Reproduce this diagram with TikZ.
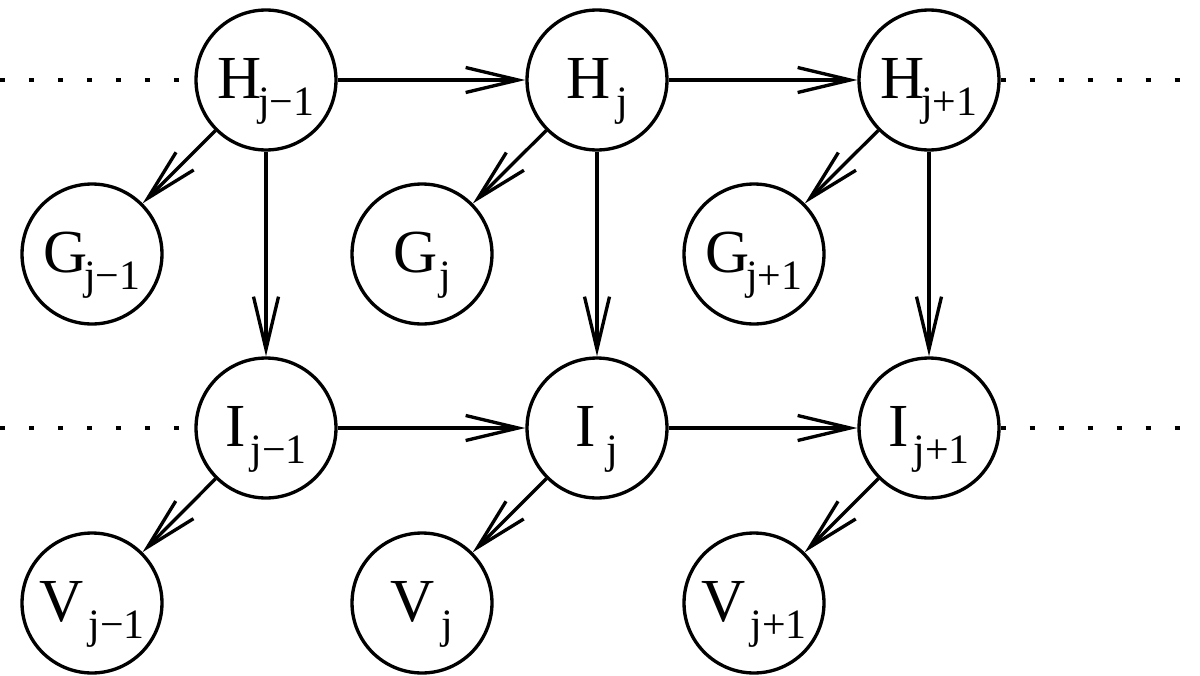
\documentclass[tikz,border=0pt]{standalone}
\usepackage{fontspec}
\usepackage{graphicx}
\setmainfont{Liberation Serif}
\usetikzlibrary{arrows.meta}
\newcommand{\nlab}[3][-0.06em]{\scalebox{1.16}{\fontsize{30}{34}\selectfont #2\kern#1\raisebox{-0.3cm}{\scalebox{1.08}{\fontsize{19}{21}\selectfont #3}}}}

\begin{document}
\begin{tikzpicture}[x=0.02cm, y=-0.02cm, line width=1.9pt,
		state/.style={draw, circle, minimum size=2.8cm, inner sep=0pt,
			text height=0.74cm, text depth=0pt},
		flow/.style={-{Straight Barb[length=1.05cm, width=0.5cm]}},
		dots/.style={dash pattern=on 0.1cm off 0.48cm}]
			\useasboundingbox (0,0) rectangle (1200,676);
			% top row
			\node[state] (h1) at (266,80) {\nlab{H}{j−1}};
			\node[state] (h2) at (597,80) {\nlab[0.1em]{H}{j}};
			\node[state] (h3) at (929,80) {\nlab{H}{j+1}};
			\node[state] (g1) at (92,254) {\nlab{G}{j−1}};
			\node[state] (g2) at (422,254) {\nlab[0.03em]{G}{j}};
			\node[state] (g3) at (754,254) {\nlab{G}{j+1}};
			% bottom row
			\node[state] (i1) at (266,428) {\nlab[0.08em]{I}{j−1}};
			\node[state] (i2) at (597,428) {\nlab[0.18em]{I}{j}};
			\node[state] (i3) at (929,428) {\nlab[0.08em]{I}{j+1}};
			\node[state] (v1) at (92,603) {\nlab[0.08em]{V}{j−1}};
			\node[state] (v2) at (422,603) {\nlab[0.12em]{V}{j}};
			\node[state] (v3) at (754,603) {\nlab[0.08em]{V}{j+1}};
			% ends of the dotted lines
			\coordinate (hl) at (0,80);
			\coordinate (hr) at (1200,80);
			\coordinate (il) at (0,428);
			\coordinate (ir) at (1200,428);
			\draw[dots] (hl) -- (h1.west);
			\draw[dots] (h3.east) -- (hr);
			\draw[dots] (il) -- (i1.west);
			\draw[dots] (i3.east) -- (ir);
			\draw[flow] (h1) -- (h2);
			\draw[flow] (h2) -- (h3);
			\draw[flow] (i1) -- (i2);
			\draw[flow] (i2) -- (i3);
			\draw[flow] (h1) -- (i1);
			\draw[flow] (h2) -- (i2);
			\draw[flow] (h3) -- (i3);
			\draw[flow] (h1) -- (g1);
			\draw[flow] (h2) -- (g2);
			\draw[flow] (h3) -- (g3);
			\draw[flow] (i1) -- (v1);
			\draw[flow] (i2) -- (v2);
			\draw[flow] (i3) -- (v3);
		\end{tikzpicture}
\end{document}
